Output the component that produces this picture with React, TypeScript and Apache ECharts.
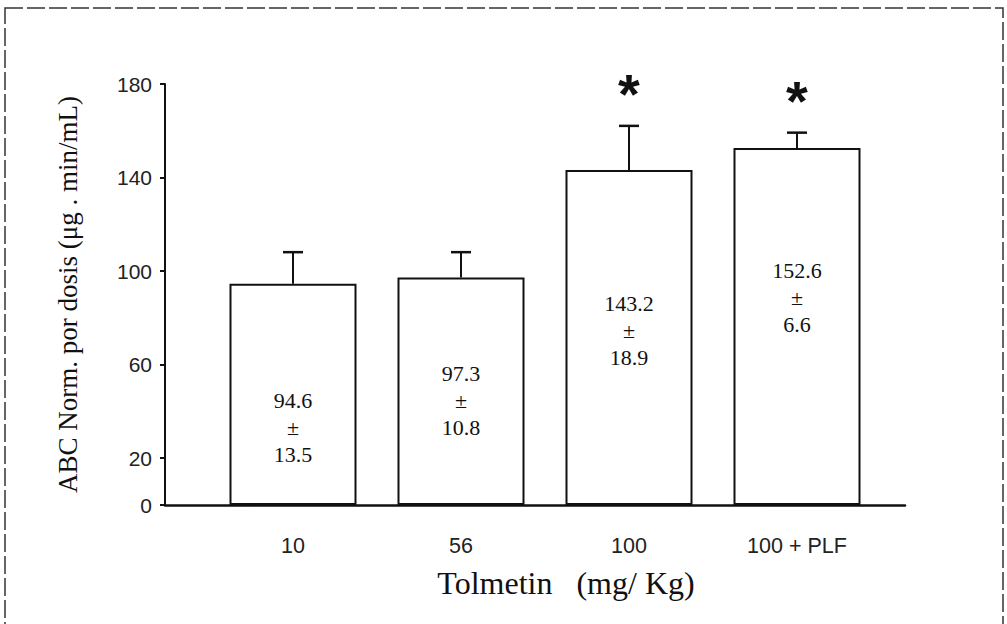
import React, { useEffect, useRef } from "react";
import * as echarts from "echarts";

// Tolmetin dose groups and normalized AUC per dose (mean ± SD)
const categories = ["10", "56", "100", "100 + PLF"];
const means = [94.6, 97.3, 143.2, 152.6];
const sds = [13.5, 10.8, 18.9, 6.6];
const significant = [false, false, true, true];
const yTickValues = [0, 20, 60, 100, 140, 180];

// where the mean ± SD text sits inside each bar (fraction of bar height from top)
const textDepth = [0.65, 0.54, 0.48, 0.42];

const INK = "#111";

export default function App() {
  const ref = useRef<HTMLDivElement>(null);

  useEffect(() => {
    if (!ref.current) return;
    const chart = echarts.init(ref.current, null, { renderer: "svg" });

    const gridTop = 84;
    const gridHeight = 421;

    chart.setOption({
      animation: false,
      backgroundColor: "#fff",
      grid: [
        { left: 209, width: 672, top: gridTop, height: gridHeight },
        { left: 165, width: 740, top: gridTop, height: gridHeight },
      ],
      xAxis: [
        {
          type: "category",
          gridIndex: 0,
          data: categories,
          axisLine: { show: false },
          axisTick: { show: false },
          axisLabel: {
            margin: 30,
            fontFamily: "Liberation Sans",
            fontSize: 21.5,
            color: "#222",
          },
        },
        {
          type: "value",
          gridIndex: 1,
          min: 0,
          max: 1,
          axisLine: { show: true, onZero: false, lineStyle: { color: INK, width: 2.5 } },
          axisTick: { show: false },
          axisLabel: { show: false },
          splitLine: { show: false },
        },
      ],
      yAxis: [
        {
          type: "value",
          gridIndex: 0,
          min: 0,
          max: 180,
          interval: 20,
          offset: 44,
          axisLine: { show: true, lineStyle: { color: INK, width: 2 } },
          axisTick: {
            show: true,
            length: 5,
            customValues: yTickValues,
            lineStyle: { color: INK, width: 2 },
          },
          axisLabel: {
            customValues: yTickValues,
            margin: 13,
            fontFamily: "Liberation Sans",
            fontSize: 21,
            color: "#222",
          },
          splitLine: { show: false },
          name: "ABC Norm. por dosis (\u03bcg . min/mL)",
          nameLocation: "middle",
          nameGap: 84,
          nameTextStyle: {
            fontFamily: "Liberation Serif",
            fontSize: 27,
            color: INK,
          },
        },
        {
          type: "value",
          gridIndex: 1,
          show: false,
          min: 0,
          max: 1,
        },
      ],
      graphic: [
        {
          type: "rect",
          silent: true,
          shape: { x: 5, y: 8, width: 998, height: 660 },
          style: { fill: "none", stroke: "#333", lineWidth: 1.5, lineDash: [18, 4] },
        },
        {
          type: "text",
          x: 566,
          y: 583,
          style: {
            text: "Tolmetin   (mg/ Kg)",
            font: "32px 'Liberation Serif'",
            fill: INK,
            align: "center",
            verticalAlign: "middle",
          },
        },
      ],
      series: [
        {
          type: "bar",
          xAxisIndex: 0,
          yAxisIndex: 0,
          barWidth: 127,
          itemStyle: { color: "#fff", borderColor: INK, borderWidth: 2 },
          data: means.map((m, i) => ({
            value: m,
            label: {
              show: true,
              position: ["50%", `${textDepth[i] * 100}%`],
              align: "center",
              verticalAlign: "middle",
              formatter: `${m.toFixed(1)}\n\u00b1\n${sds[i].toFixed(1)}`,
              fontFamily: "Liberation Serif",
              fontSize: 22,
              lineHeight: 27,
              color: INK,
            },
          })),
        },
        {
          type: "custom",
          xAxisIndex: 0,
          yAxisIndex: 0,
          data: means.map((m, i) => [i, m, sds[i]]),
          renderItem: (params: any, api: any) => {
            const base = api.coord([api.value(0), api.value(1)]);
            const top = api.coord([api.value(0), api.value(1) + api.value(2)]);
            const capHalf = 10;
            const children: any[] = [
              {
                type: "line",
                shape: { x1: base[0], y1: base[1], x2: top[0], y2: top[1] },
                style: { stroke: INK, lineWidth: 2 },
              },
              {
                type: "line",
                shape: { x1: top[0] - capHalf, y1: top[1], x2: top[0] + capHalf, y2: top[1] },
                style: { stroke: INK, lineWidth: 2.5 },
              },
            ];
            if (significant[params.dataIndex]) {
              children.push({
                type: "text",
                style: {
                  text: "*",
                  x: top[0],
                  y: top[1] - 32,
                  align: "center",
                  verticalAlign: "middle",
                  font: "bold 56px 'Liberation Sans'",
                  fill: INK,
                },
              });
            }
            return { type: "group", children };
          },
        },
      ],
    });

    return () => chart.dispose();
  }, []);

  return (
    <div
      ref={ref}
      style={{ position: "absolute", left: 0, top: 0, width: 1007, height: 624 }}
    />
  );
}
